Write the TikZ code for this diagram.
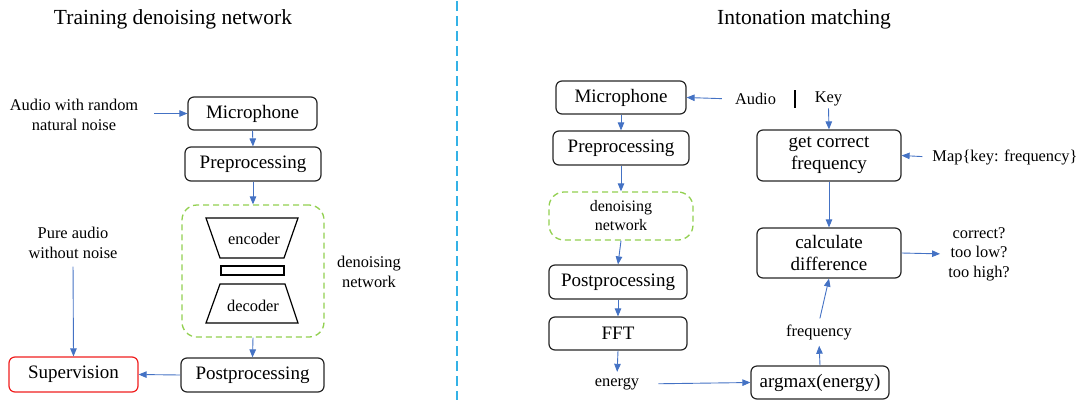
\documentclass[tikz,border=0pt]{standalone}
\usepackage{fontspec}
\newcommand\tnrfont{\fontspec{Liberation Serif}}
\usetikzlibrary{arrows.meta,calc}
\definecolor{arrowblue}{RGB}{68,114,196}
\definecolor{dashgreen}{RGB}{146,208,80}
\definecolor{sepblue}{RGB}{52,178,230}
\definecolor{supred}{RGB}{240,30,30}
\tikzset{
  box/.style={draw=black!85, rounded corners=6pt, line width=1.2pt, inner sep=0pt, align=center, font=\tnrfont\fontsize{19}{22}\selectfont},
  dnbox/.style={draw=dashgreen, dashed, dash pattern=on 6pt off 4pt, rounded corners=15pt, line width=1.3pt, inner sep=0pt, align=center, font=\tnrfont\fontsize{16}{19}\selectfont},
  lbl/.style={align=center, inner sep=2pt, font=\tnrfont\fontsize{16.4}{19.5}\selectfont},
  ttl/.style={inner sep=0pt, font=\tnrfont\fontsize{21.5}{25}\selectfont},
  arr/.style={draw=arrowblue, line width=0.9pt, -{Triangle[length=8pt,width=6.5pt]}},
  shape box/.style={draw=black, line width=1.2pt},
}
\begin{document}
\begin{tikzpicture}[x=1pt,y=-1pt]
\useasboundingbox (0,0) rectangle (1085,400);
% separator
\draw[sepblue, line width=1.6pt, dash pattern=on 10pt off 5pt] (457,1) -- (457,400);

% ---------- left panel ----------
\node[ttl] (t1) at (173,19) {Training denoising network};
\node[box, minimum width=129pt, minimum height=33pt] (mic1) at (252.5,113.5) {Microphone};
\node[box, minimum width=136pt, minimum height=34pt] (pre1) at (253,164) {Preprocessing};
\node[dnbox, minimum width=142pt, minimum height=132pt] (dn1) at (253,271) {};
\node[box, minimum width=143pt, minimum height=34pt] (post1) at (252.5,375) {Postprocessing};
\node[box, draw=supred, minimum width=129pt, minimum height=35pt] (sup) at (73.5,374.5) {Supervision};
\node[lbl] (noise) at (74,115) {Audio with random\\natural noise};
\node[lbl] (pure) at (73,243) {Pure audio\\without noise};
\node[lbl] (dnlbl) at (369,272) {denoising\\network};

% encoder / bottleneck / decoder
\draw[shape box] (206,218) -- (298,218) -- (284,258) -- (220,258) -- cycle;
\node[lbl, inner sep=0pt] (enc) at (254,239) {encoder};
\draw[shape box] (221,266) rectangle (284,275);
\draw[shape box] (220,284) -- (285,284) -- (298,323) -- (206,323) -- cycle;
\node[lbl, inner sep=0pt] (dec) at (253,306) {decoder};

\draw[arr, shorten <=14pt] (noise.east |- mic1.west) -- (mic1.west);
\draw[arr] (mic1.south) -- (pre1.north);
\draw[arr] (pre1.south) -- (dn1.north);
\draw[arr] (dn1.south) -- (post1.north);
\draw[arr] (post1.west) -- (sup.east);
\draw[arr, shorten <=6pt] (pure.south) -- (sup.north);

% ---------- right panel ----------
\node[ttl] (t2) at (804,19) {Intonation matching};
\node[box, minimum width=130pt, minimum height=33pt] (mic2) at (621,97.5) {Microphone};
\node[box, minimum width=136pt, minimum height=34pt] (pre2) at (621,148) {Preprocessing};
\node[dnbox, minimum width=144pt, minimum height=48pt] (dn2) at (621,216) {denoising\\network};
\node[box, minimum width=138pt, minimum height=34pt] (post2) at (618,282) {Postprocessing};
\node[box, minimum width=138pt, minimum height=33pt] (fft) at (618,333.5) {FFT};
\node[lbl] (energy) at (617,384) {energy};
\node[box, minimum width=138pt, minimum height=33pt] (argmax) at (820,382.5) {argmax(energy)};
\node[lbl] (freq) at (819,332) {frequency};
\node[box, minimum width=144pt, minimum height=51pt] (gcf) at (829,155.5) {get correct\\frequency};
\node[box, minimum width=144pt, minimum height=50pt] (calc) at (829,253) {calculate\\difference};
\node[lbl] (audio) at (755.5,99) {Audio};
\node[lbl] (key) at (828.5,99) {Key};
\coordinate (bartop) at (795,90);
\coordinate (barbot) at (795,108);
\draw[line width=1.6pt] (bartop) -- (barbot);
\node[lbl] (map) at (1005,157) {Map\{key: frequency\}};
\node[lbl] (res) at (979,254) {correct?\\too low?\\too high?};

\draw[arr, shorten <=11pt] (audio.west) -- (mic2.east);
\draw[arr] (key.south) -- (gcf.north);
\draw[arr] (mic2.south) -- (pre2.north);
\draw[arr] (pre2.south) -- (dn2.north);
\draw[arr] (dn2.south) -- (post2.north);
\draw[arr] (post2.south) -- (fft.north);
\draw[arr, shorten >=4pt] (fft.south) -- (energy.north);
\draw[arr, shorten <=17pt] (energy.east) -- (argmax.west);
\draw[arr, shorten >=4pt] (argmax.north) -- (freq.south);
\draw[arr, shorten <=4pt] (freq.north) -- (calc.south);
\draw[arr] (gcf.south) -- (calc.north);
\draw[arr, shorten <=8pt] (map.west) -- (gcf.east);
\draw[arr, shorten >=6pt] (calc.east) -- (res.west);
\end{tikzpicture}
\end{document}
